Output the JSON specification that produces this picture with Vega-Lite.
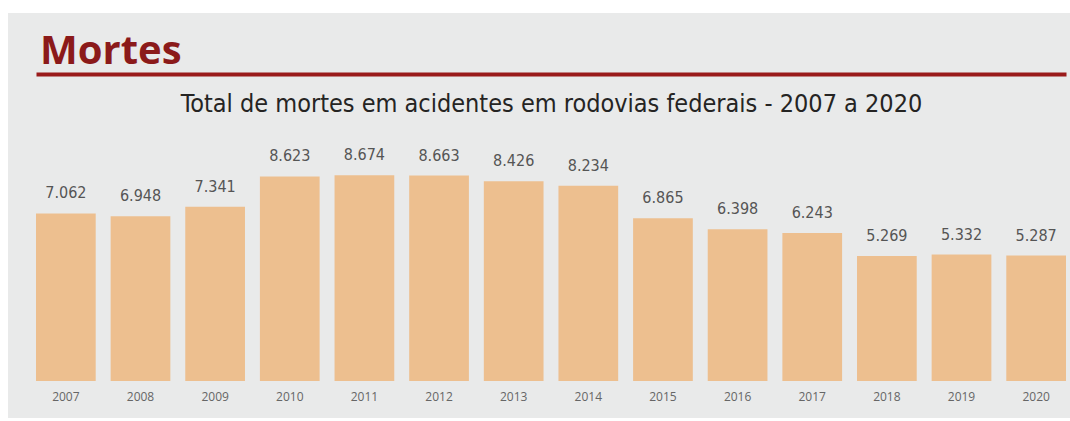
{
  "$schema": "https://vega.github.io/schema/vega-lite/v6.json",
  "width": 1062,
  "height": 405,
  "autosize": {"type": "none"},
  "padding": {"left": 8, "top": 13, "right": 0, "bottom": 3},
  "background": "#ffffff",
  "config": {
    "view": {"fill": "#e9eaea", "stroke": null},
    "locale": {"number": {"decimal": ",", "thousands": ".", "grouping": [3], "currency": ["R$", ""]}}
  },
  "title": {
    "text": "Mortes",
    "anchor": "start",
    "frame": "group",
    "orient": "top",
    "offset": -49,
    "baseline": "alphabetic",
    "dx": 32,
    "dy": 42,
    "font": "Open Sans",
    "fontSize": 40,
    "fontWeight": "bold",
    "color": "#8b1a1a"
  },
  "data": {
    "values": [
      {"ano": "2007", "mortes": 7062},
      {"ano": "2008", "mortes": 6948},
      {"ano": "2009", "mortes": 7341},
      {"ano": "2010", "mortes": 8623},
      {"ano": "2011", "mortes": 8674},
      {"ano": "2012", "mortes": 8663},
      {"ano": "2013", "mortes": 8426},
      {"ano": "2014", "mortes": 8234},
      {"ano": "2015", "mortes": 6865},
      {"ano": "2016", "mortes": 6398},
      {"ano": "2017", "mortes": 6243},
      {"ano": "2018", "mortes": 5269},
      {"ano": "2019", "mortes": 5332},
      {"ano": "2020", "mortes": 5287}
    ]
  },
  "resolve": {"axis": {"x": "independent"}},
  "layer": [
    {
      "mark": {"type": "bar", "color": "#edbf8f"},
      "encoding": {
        "x": {
          "field": "ano",
          "type": "nominal",
          "sort": null,
          "scale": {"range": [28, 1058], "paddingInner": 0.2, "paddingOuter": 0},
          "axis": {
            "orient": "bottom",
            "offset": -37,
            "title": null,
            "domain": false,
            "ticks": false,
            "grid": false,
            "labelAngle": 0,
            "labelPadding": 10,
            "labelFont": "Open Sans",
            "labelFontSize": 12,
            "labelColor": "#666666"
          }
        },
        "y": {
          "field": "mortes",
          "type": "quantitative",
          "scale": {"domain": [0, 15514], "range": [368, 0], "nice": false},
          "axis": null
        }
      }
    },
    {
      "mark": {
        "type": "text",
        "baseline": "alphabetic",
        "dy": -15,
        "font": "DejaVu Sans Condensed, Roboto",
        "fontSize": 16,
        "color": "#555555"
      },
      "encoding": {
        "x": {
          "field": "ano",
          "type": "nominal",
          "sort": null,
          "axis": {
            "orient": "top",
            "offset": -61,
            "title": "Total de mortes em acidentes em rodovias federais - 2007 a 2020",
            "titleFont": "DejaVu Sans Condensed, Roboto",
            "titleFontSize": 25,
            "titleFontWeight": "normal",
            "titleColor": "#252423",
            "titleBaseline": "alphabetic",
            "titleY": 37,
            "labels": false,
            "ticks": false,
            "grid": false,
            "domain": true,
            "domainColor": "#9a1b1b",
            "domainWidth": 4
          }
        },
        "y": {"field": "mortes", "type": "quantitative"},
        "text": {"field": "mortes", "type": "quantitative", "format": ",d"}
      }
    }
  ]
}
